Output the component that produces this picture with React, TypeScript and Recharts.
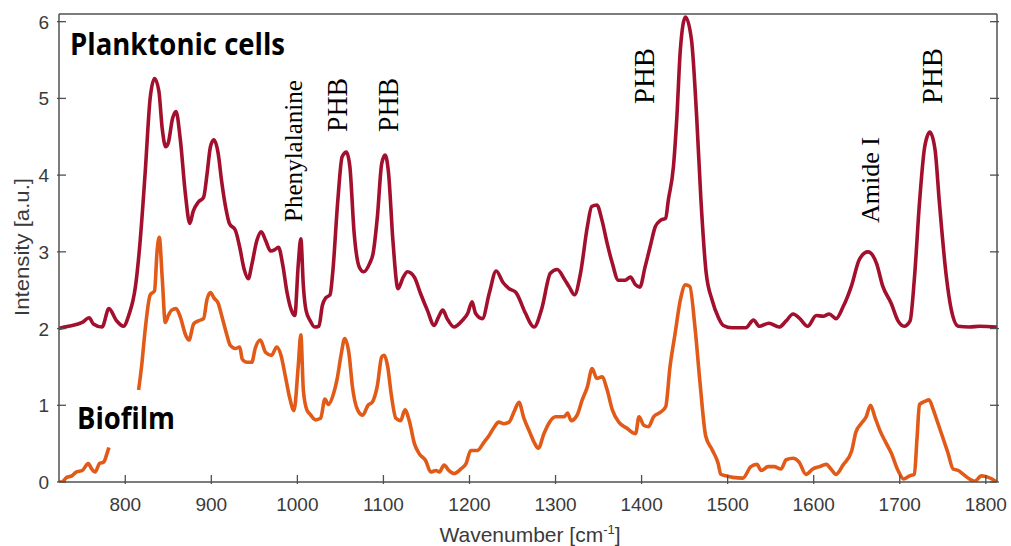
import React from "react";
import { LineChart, Line, XAxis, YAxis } from "recharts";

// wavenumber [cm-1] and intensity
const planktonicWn = [723, 726, 734, 750, 758, 763, 773, 781, 790, 798, 804, 812, 817, 823, 829, 834, 839, 843, 847, 850, 855, 859, 864, 870, 875, 879, 885, 891, 895, 899, 903, 908, 912, 917, 921, 928, 933, 938, 943, 947, 953, 958, 963, 969, 974, 978, 983, 988, 993, 997, 1001, 1004, 1007, 1010, 1015, 1020, 1025, 1029, 1033, 1038, 1041, 1047, 1052, 1057, 1061, 1066, 1072, 1077, 1084, 1088, 1093, 1098, 1102, 1106, 1111, 1117, 1123, 1128, 1136, 1143, 1151, 1159, 1164, 1169, 1174, 1182, 1192, 1198, 1203, 1207, 1215, 1223, 1231, 1239, 1246, 1254, 1265, 1275, 1284, 1294, 1302, 1310, 1316, 1322, 1329, 1337, 1342, 1348, 1354, 1360, 1366, 1373, 1381, 1387, 1393, 1398, 1404, 1410, 1416, 1422, 1428, 1431, 1437, 1441, 1445, 1451, 1458, 1464, 1469, 1475, 1482, 1489, 1495, 1505, 1521, 1530, 1537, 1548, 1560, 1568, 1576, 1583, 1593, 1603, 1611, 1618, 1626, 1634, 1644, 1653, 1663, 1673, 1680, 1690, 1698, 1705, 1712, 1717, 1723, 1729, 1735, 1741, 1746, 1754, 1760, 1768, 1781, 1793, 1813];
const planktonicI = [2.0, 2.01, 2.03, 2.08, 2.14, 2.06, 2.02, 2.26, 2.1, 2.03, 2.17, 2.56, 3.1, 4.01, 5.01, 5.26, 5.1, 4.6, 4.37, 4.42, 4.74, 4.83, 4.46, 3.74, 3.37, 3.53, 3.65, 3.71, 4.01, 4.37, 4.46, 4.28, 3.92, 3.56, 3.37, 3.28, 3.06, 2.78, 2.65, 2.83, 3.15, 3.26, 3.15, 3.01, 3.03, 3.06, 2.83, 2.47, 2.24, 2.17, 2.83, 3.17, 2.55, 2.24, 2.1, 2.02, 2.03, 2.3, 2.4, 2.44, 2.72, 3.67, 4.24, 4.3, 4.11, 3.24, 2.8, 2.74, 2.85, 2.98, 3.46, 4.15, 4.26, 4.02, 3.15, 2.52, 2.67, 2.74, 2.67, 2.46, 2.24, 2.04, 2.15, 2.24, 2.13, 2.02, 2.11, 2.2, 2.35, 2.2, 2.13, 2.46, 2.75, 2.6, 2.52, 2.47, 2.2, 2.02, 2.26, 2.72, 2.77, 2.65, 2.54, 2.44, 2.72, 3.33, 3.59, 3.61, 3.41, 3.11, 2.85, 2.63, 2.63, 2.67, 2.57, 2.54, 2.8, 3.07, 3.33, 3.41, 3.44, 3.67, 4.11, 4.76, 5.63, 6.06, 5.76, 4.76, 3.67, 2.73, 2.37, 2.15, 2.04, 2.01, 2.01, 2.11, 2.03, 2.07, 2.02, 2.1, 2.19, 2.14, 2.03, 2.17, 2.16, 2.19, 2.13, 2.28, 2.56, 2.9, 3.0, 2.85, 2.56, 2.33, 2.1, 2.03, 2.1, 2.65, 3.65, 4.37, 4.56, 4.33, 3.65, 2.69, 2.24, 2.03, 2.02, 2.03, 2.02];

const biofilmWn = [723, 726, 732, 738, 743, 750, 757, 761, 765, 770, 775, 779, 781, 798, 815.5, 819, 823, 829, 834, 837, 839.5, 843, 846.5, 850, 854, 859, 864, 870, 874, 879.5, 885, 891, 895, 899, 903, 908, 912, 918, 922, 928, 933, 936, 941.5, 947, 951, 957, 963, 970, 976, 981, 986, 991, 996, 1001, 1004, 1007, 1011, 1015, 1021, 1027, 1032, 1036, 1042, 1046, 1051, 1055, 1060, 1064, 1070, 1076, 1082, 1087, 1093, 1098, 1101, 1105, 1109, 1114.5, 1120, 1125, 1130, 1136, 1141.5, 1149, 1155, 1161, 1165, 1170.5, 1176, 1182, 1190, 1196, 1201.5, 1209, 1217, 1223, 1228.5, 1234, 1240, 1246, 1252, 1257.5, 1263, 1270, 1275, 1280, 1286.5, 1293, 1300, 1310, 1314, 1318, 1325, 1331, 1337, 1342.5, 1348, 1354, 1360, 1366, 1373.5, 1383, 1393, 1397, 1402.5, 1408, 1414, 1422, 1428, 1433, 1439, 1445, 1451, 1456, 1462, 1468, 1474.5, 1482, 1489, 1492, 1498, 1506, 1517.5, 1527, 1534, 1539, 1547, 1554, 1562, 1568, 1576, 1583, 1591, 1599, 1607, 1614.5, 1620, 1626, 1634, 1644, 1649, 1655, 1661, 1666, 1671, 1677, 1684, 1690, 1698, 1704.5, 1711.5, 1717, 1720, 1723, 1729, 1734, 1739, 1744.5, 1750, 1756, 1762, 1768, 1774, 1781, 1787, 1795, 1803, 1813];
const biofilmI = [0.0, 0.0, 0.06, 0.08, 0.13, 0.15, 0.24, 0.17, 0.13, 0.24, 0.26, 0.38, 0.45, null, 1.2, 1.51, 1.97, 2.44, 2.49, 3.01, 3.19, 2.65, 2.08, 2.17, 2.24, 2.26, 2.15, 1.92, 1.85, 2.06, 2.1, 2.13, 2.38, 2.47, 2.4, 2.33, 2.17, 1.92, 1.78, 1.74, 1.76, 1.6, 1.56, 1.56, 1.74, 1.85, 1.69, 1.65, 1.76, 1.65, 1.38, 1.1, 0.93, 1.51, 1.92, 1.19, 0.94, 0.88, 0.81, 0.83, 1.08, 1.01, 1.15, 1.33, 1.67, 1.87, 1.67, 1.24, 0.94, 0.87, 1.0, 1.04, 1.26, 1.63, 1.65, 1.5, 1.15, 0.83, 0.8, 0.94, 0.8, 0.5, 0.37, 0.28, 0.13, 0.15, 0.13, 0.22, 0.15, 0.11, 0.17, 0.24, 0.41, 0.41, 0.52, 0.61, 0.71, 0.78, 0.76, 0.78, 0.92, 1.04, 0.84, 0.65, 0.52, 0.44, 0.63, 0.78, 0.85, 0.85, 0.9, 0.8, 0.87, 1.07, 1.24, 1.48, 1.35, 1.37, 1.2, 0.94, 0.78, 0.7, 0.63, 0.85, 0.74, 0.72, 0.85, 0.91, 0.98, 1.5, 1.94, 2.37, 2.57, 2.55, 2.02, 1.28, 0.6, 0.42, 0.24, 0.1, 0.08, 0.06, 0.05, 0.2, 0.23, 0.15, 0.2, 0.2, 0.17, 0.29, 0.31, 0.26, 0.1, 0.17, 0.2, 0.23, 0.17, 0.1, 0.22, 0.4, 0.65, 0.76, 0.85, 1.0, 0.85, 0.67, 0.51, 0.38, 0.15, 0.04, 0.08, 0.1, 0.56, 1.01, 1.05, 1.07, 0.94, 0.76, 0.58, 0.38, 0.17, 0.15, 0.1, 0.04, 0.01, 0.08, 0.06, 0.0];

const xTicks = [800, 900, 1000, 1100, 1200, 1300, 1400, 1500, 1600, 1700, 1800];
const yTicks = [0, 1, 2, 3, 4, 5, 6];

const planktonic = planktonicWn.map((wn, i) => ({ wn, v: planktonicI[i] }));
const biofilm = biofilmWn.map((wn, i) => ({ wn, v: biofilmI[i] }));

const FRAME = "#505050";
const SANS = "'Liberation Sans', Arial, sans-serif";
const SERIF = "'Liberation Serif', 'Times New Roman', serif";
const TICK = 9;

const BottomTick = (p: any) => (
  <g>
    <line x1={p.x} y1={p.y} x2={p.x} y2={p.y - TICK} stroke={FRAME} strokeWidth={1.3} />
    <text x={p.x} y={p.y + 27} textAnchor="middle" fontSize={19} fill="#3a3a3a" fontFamily={SANS}>{p.payload.value}</text>
  </g>
);
const TopTick = (p: any) => (
  <line x1={p.x} y1={p.y} x2={p.x} y2={p.y + TICK} stroke={FRAME} strokeWidth={1.3} />
);
const LeftTick = (p: any) => (
  <g>
    <line x1={p.x} y1={p.y} x2={p.x + TICK} y2={p.y} stroke={FRAME} strokeWidth={1.3} />
    <text x={p.x - 8} y={p.y + 7} textAnchor="end" fontSize={19} fill="#3a3a3a" fontFamily={SANS}>{p.payload.value}</text>
  </g>
);
const RightTick = (p: any) => (
  <line x1={p.x} y1={p.y} x2={p.x - TICK} y2={p.y} stroke={FRAME} strokeWidth={1.3} />
);

function VLabel({ x, y, size, len, children }: { x: number; y: number; size: number; len: number; children: string }) {
  return (
    <text transform={`translate(${x},${y}) rotate(-90)`} textAnchor="middle" fontSize={size} fontFamily={SERIF} fill="#000" textLength={len} lengthAdjust="spacingAndGlyphs">
      {children}
    </text>
  );
}

export default function App() {
  return (
    <div style={{ position: "absolute", left: 0, top: 0, width: 1011, height: 546, background: "#fff" }}>
      <LineChart width={1011} height={546} margin={{ top: 0, right: 0, bottom: 0, left: 0 }}>
        <XAxis xAxisId="top" orientation="top" type="number" domain={[723, 1813]} ticks={xTicks} height={14} tickSize={0} tick={TopTick} axisLine={{ stroke: FRAME, strokeWidth: 1.5 }} tickLine={false} allowDataOverflow />
        <XAxis dataKey="wn" type="number" domain={[723, 1813]} ticks={xTicks} height={64} tickSize={0} tick={BottomTick} axisLine={{ stroke: FRAME, strokeWidth: 1.5 }} tickLine={false} allowDataOverflow />
        <YAxis type="number" domain={[0, 6.1]} ticks={yTicks} width={59} tickSize={0} tick={LeftTick} axisLine={{ stroke: FRAME, strokeWidth: 1.5 }} tickLine={false} allowDataOverflow />
        <YAxis yAxisId="right" orientation="right" type="number" domain={[0, 6.1]} ticks={yTicks} width={14} tickSize={0} tick={RightTick} axisLine={{ stroke: FRAME, strokeWidth: 1.5 }} tickLine={false} allowDataOverflow />
        <Line data={planktonic} dataKey="v" type="monotone" stroke="#A3102E" strokeWidth={3.6} dot={false} isAnimationActive={false} />
        <Line data={biofilm} dataKey="v" type="monotone" stroke="#E25A18" strokeWidth={3.6} dot={false} isAnimationActive={false} />
      </LineChart>
      <svg width={1011} height={546} style={{ position: "absolute", left: 0, top: 0, pointerEvents: "none" }}>
        <text x={70} y={55} fontSize={30} fontWeight={700} fontFamily="'Open Sans', sans-serif" textLength={215} lengthAdjust="spacingAndGlyphs">Planktonic cells</text>
        <text x={77} y={429} fontSize={30} fontWeight={700} fontFamily="'Open Sans', sans-serif" textLength={98} lengthAdjust="spacingAndGlyphs">Biofilm</text>
        <VLabel x={302} y={151} size={25} len={142}>Phenylalanine</VLabel>
        <VLabel x={347} y={105} size={29} len={54}>PHB</VLabel>
        <VLabel x={398} y={105} size={29} len={54}>PHB</VLabel>
        <VLabel x={654} y={76} size={29} len={56}>PHB</VLabel>
        <VLabel x={942} y={76} size={29} len={56}>PHB</VLabel>
        <VLabel x={879} y={180} size={25} len={86}>Amide I</VLabel>
        <text transform="translate(29,247) rotate(-90)" textAnchor="middle" fontSize={20} fill="#3a3a3a" fontFamily={SANS} textLength={138} lengthAdjust="spacingAndGlyphs">Intensity [a.u.]</text>
        <text x={530} y={542} textAnchor="middle" fontSize={21} fill="#3a3a3a" fontFamily={SANS}>
          Wavenumber [cm<tspan dy={-8} fontSize={13}>-1</tspan><tspan dy={8}>]</tspan>
        </text>
      </svg>
    </div>
  );
}
